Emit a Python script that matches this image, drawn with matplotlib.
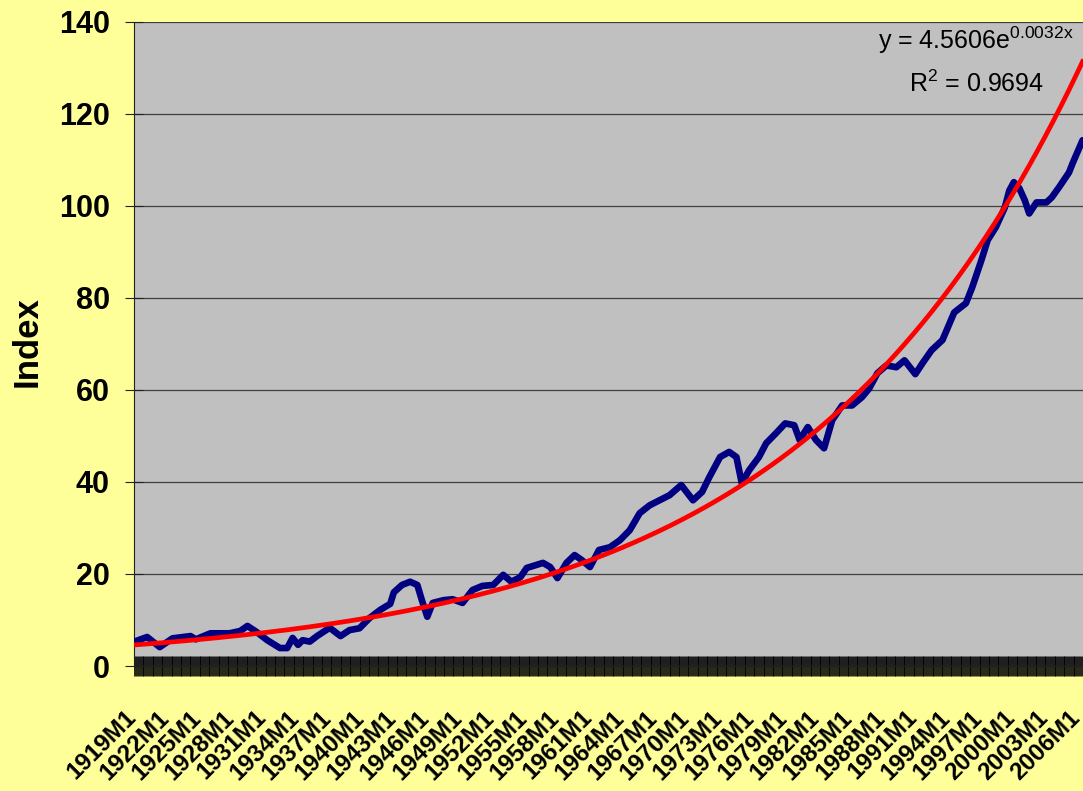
import numpy as np
import matplotlib
matplotlib.use('Agg')
import matplotlib.pyplot as plt
from matplotlib.transforms import ScaledTranslation

# --- data --- #
first_year = 1919
n_months = 1050                      # 1919M1 ... 2006M6

periods = ['1919M1', '1920M3', '1921M5', '1922M7', '1924M3', '1924M9', '1926M1', '1927M10', '1928M10', '1929M6',
           '1930M4', '1931M4', '1932M6', '1933M2', '1933M8', '1934M2', '1934M7', '1935M3', '1935M11', '1937M1',
           '1938M1', '1938M11', '1939M10', '1940M9', '1941M9', '1942M8', '1942M12', '1943M9', '1944M6', '1945M2',
           '1945M7', '1946M1', '1946M7', '1947M7', '1948M5', '1949M4', '1950M3', '1951M2', '1952M2', '1953M1',
           '1953M10', '1954M8', '1955M3', '1956M9', '1957M5', '1958M1', '1958M11', '1959M8', '1960M4', '1961M1',
           '1961M11', '1962M11', '1963M10', '1964M9', '1965M8', '1966M7', '1967M6', '1968M5', '1969M6', '1970M7',
           '1971M5', '1972M1', '1973M1', '1973M11', '1974M7', '1975M1', '1975M9', '1976M8', '1977M4', '1978M3',
           '1979M1', '1979M11', '1980M5', '1981M2', '1981M11', '1982M8', '1983M5', '1984M4', '1985M3', '1986M2',
           '1986M10', '1987M7', '1988M5', '1989M4', '1990M1', '1991M1', '1991M9', '1992M7', '1993M7', '1994M8',
           '1995M9', '1996M4', '1997M2', '1997M9', '1998M6', '1999M4', '1999M9', '2000M2', '2000M8', '2001M2',
           '2001M7', '2002M3', '2003M2', '2003M8', '2004M4', '2005M3', '2005M7', '2006M6']

index_vals = [5.3, 6.3, 4.1, 6.0, 6.5, 5.8, 7.1, 7.1, 7.6, 8.7,
              7.4, 5.6, 3.9, 3.9, 6.1, 4.6, 5.6, 5.3, 6.5, 8.3,
              6.5, 7.8, 8.2, 10.4, 12.2, 13.5, 16.0, 17.6, 18.3, 17.6,
              14.3, 10.7, 13.7, 14.3, 14.5, 13.7, 16.5, 17.4, 17.6, 19.8,
              18.3, 19.3, 21.3, 22.4, 21.5, 19.1, 22.4, 24.1, 23.0, 21.5,
              25.2, 25.8, 27.3, 29.5, 33.2, 34.9, 36.0, 37.1, 39.3, 36.0,
              37.8, 41.0, 45.4, 46.5, 45.4, 39.7, 42.5, 45.4, 48.4, 50.6,
              52.7, 52.3, 49.1, 51.9, 49.1, 47.3, 53.4, 56.6, 56.6, 58.4,
              60.3, 63.6, 65.3, 64.9, 66.4, 63.4, 65.8, 68.6, 70.8, 76.8,
              78.8, 82.3, 88.1, 92.5, 95.3, 99.6, 103.3, 105.1, 103.8, 101.2,
              98.3, 100.7, 100.7, 101.8, 104.0, 107.2, 109.2, 114.2]

# exponential trend line as printed on the chart
trend_a = 4.5606
trend_b = 0.0032
trend_text = r'y = 4.5606e$^{\mathrm{0.0032x}}$'
r2_text = r'R$^{\mathrm{2}}$ = 0.9694'

y_ticks = [0, 20, 40, 60, 80, 100, 120, 140]
label_step = 36                      # a label every 3 years

# ------------------------------------------------------------- #

months = ['%dM%d' % (first_year + i // 12, i % 12 + 1) for i in range(n_months)]
pos = [months.index(p) for p in periods]
trend_x = np.arange(1, n_months + 1)
trend_y = trend_a * np.exp(trend_b * trend_x)

plt.rcParams['font.family'] = ['Liberation Sans', 'DejaVu Sans']
plt.rcParams['mathtext.fontset'] = 'custom'
plt.rcParams['mathtext.rm'] = 'Liberation Sans'

W, H = 1083, 791
fig = plt.figure(figsize=(W / 100, H / 100), dpi=100, facecolor='#FFFF99')
ax = fig.add_axes([134 / W, 1 - 666 / H, 1 - 134 / W, (666 - 21.5) / H])
ax.set_facecolor('#C0C0C0')

ax.plot(pos, index_vals, color='#000080', lw=4.8, solid_joinstyle='round', solid_capstyle='round', zorder=3)
ax.plot(trend_x - 1, trend_y, color='#FF0000', lw=3.4, zorder=4)

ax.set_xlim(-0.5, n_months - 0.5)
ax.set_ylim(0, 140)
ax.set_yticks(y_ticks)
ax.set_yticklabels([str(v) for v in y_ticks], fontsize=22, fontweight='bold')
ax.grid(axis='y', color='#404040', lw=0.9, zorder=1)
ax.set_axisbelow(True)

ax.set_xticks(range(0, n_months, label_step))
ax.set_xticklabels(months[::label_step], fontsize=17.5, fontweight='bold',
                   rotation=45, ha='right', va='top', rotation_mode='anchor')
ax.set_xticks(range(n_months), minor=True)
ax.tick_params(axis='x', which='both', direction='inout', length=13.7, width=0.6, color='black', pad=22)
ax.tick_params(axis='y', direction='inout', length=13, width=0.8, color='#202020', pad=11)

for lbl in ax.get_xticklabels():
    lbl.set_transform(lbl.get_transform() + ScaledTranslation(-7 / 72, 0, fig.dpi_scale_trans))

for s in ['top', 'right']:
    ax.spines[s].set_visible(False)
ax.spines['left'].set_color('#202020')
ax.spines['bottom'].set_color('#202020')

fig.text(27 / W, 1 - 342 / H, 'Index', rotation=90, fontsize=25, fontweight='bold', ha='center', va='center')
fig.text(976 / W, 1 - 49 / H, trend_text, fontsize=18, ha='center', va='baseline')
fig.text(977 / W, 1 - 92 / H, r2_text, fontsize=18, ha='center', va='baseline')

fig.savefig('out.png', dpi=100, facecolor=fig.get_facecolor())
